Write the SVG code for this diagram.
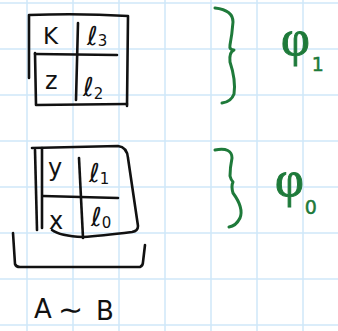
<svg xmlns="http://www.w3.org/2000/svg" width="338" height="331" viewBox="0 0 338 331">
<style>
.grid{stroke:#cfe7f9;stroke-width:1.5}
.ink{fill:none;stroke:#111;stroke-width:2.6;stroke-linecap:round;stroke-linejoin:round}
.green{fill:none;stroke:#1e7a3a;stroke-width:3;stroke-linecap:round;stroke-linejoin:round}
.t{font-family:"DejaVu Sans",sans-serif;fill:#111}
.l{font-family:"DejaVu Sans",sans-serif;fill:#111;font-size:26px}
.s{font-size:15px}
.g{font-family:"Liberation Serif",serif;fill:#1e7a3a;font-size:50px;stroke:#1e7a3a;stroke-width:1}
.gs{font-family:"DejaVu Sans",sans-serif;font-size:19px;stroke-width:0.5}
</style>
<rect width="338" height="331" fill="#fff"/>
<g id="grid">
<path class="grid" d="M27 0V331M73 0V331M119 0V331M165 0V331M211 0V331M257 0V331M303 0V331"/>
<path class="grid" d="M0 3H338M0 49H338M0 95H338M0 141H338M0 187H338M0 233H338M0 279H338M0 325H338"/>
</g>
<g id="table-top">
<path class="ink" d="M29 78 L29 15 Q80 13 128 16 L127 106"/>
<path class="ink" d="M35 53 L36 105 L127 104"/>
<path class="ink" d="M35 54 L117 55"/>
<path class="ink" d="M78 23 L76 100"/>
<text class="t" x="43" y="44" font-size="23">K</text>
<text class="l" x="87" y="45">ℓ<tspan class="s" dy="1">3</tspan></text>
<text class="t" x="45" y="89" font-size="24">z</text>
<text class="l" x="83" y="96">ℓ<tspan class="s" dy="3">2</tspan></text>
</g>
<g id="table-bottom">
<path class="ink" d="M35 150 L37 230"/>
<path class="ink" d="M42 148 L42 228"/>
<path class="ink" d="M32 148 L118 146 Q127 147 128 158 L138 226 Q138 231 132 232 Q100 236 83 237 Q60 236 52 230"/>
<path class="ink" d="M43 196 L118 198"/>
<path class="ink" d="M79 158 L83 238"/>
<text class="t" x="48" y="176" font-size="24">y</text>
<text class="l" x="89" y="182">ℓ<tspan class="s" dy="2">1</tspan></text>
<text class="t" x="49" y="229" font-size="24">x</text>
<text class="l" x="91" y="226">ℓ<tspan class="s" dy="2">0</tspan></text>
</g>
<g id="bracket">
<path class="ink" d="M13 233 L15 264 Q16 267 20 267 L140 267 Q143 266 143 262 L145 245"/>
</g>
<g id="label-AB">
<text class="t" x="34" y="318" font-size="26">A</text>
<text class="t" x="58" y="320" font-size="30">∼</text>
<text class="t" x="96" y="320" font-size="26">B</text>
</g>
<g id="connectors">
<path class="green" d="M215 8 Q233 10 233 22 Q232 35 230 45 Q229 50 234 50 Q229 52 230 62 Q236 80 234 94 Q231 102 222 103"/>
<path class="green" d="M215 150 Q232 147 232 158 Q230 168 230 176 Q231 180 233 182 Q231 186 233 193 Q244 208 240 218 Q236 226 229 227"/>
</g>
<g id="phi1">
<text class="g" x="281" y="55">φ<tspan class="gs" dx="2" dy="16">1</tspan></text>
</g>
<g id="phi0">
<text class="g" x="275" y="196">φ<tspan class="gs" dx="1" dy="18">0</tspan></text>
</g>
</svg>
